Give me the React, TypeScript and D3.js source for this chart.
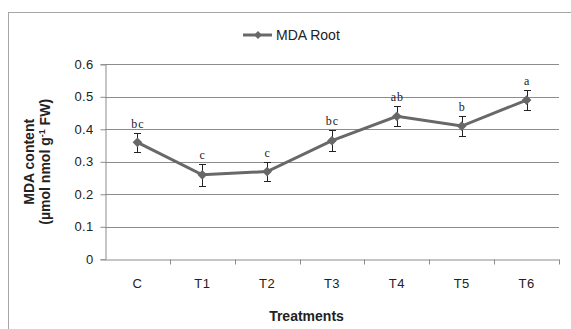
import React, { useEffect, useRef } from "react";
import * as d3 from "d3";

const categories = ["C", "T1", "T2", "T3", "T4", "T5", "T6"];
const mdaRoot = [0.36, 0.26, 0.27, 0.365, 0.44, 0.41, 0.49];
const errors = [0.03, 0.033, 0.03, 0.032, 0.031, 0.031, 0.031];
const letters = ["bc", "c", "c", "bc", "ab", "b", "a"];
const yTicks = [0, 0.1, 0.2, 0.3, 0.4, 0.5, 0.6];

const W = 571;
const H = 329;
const plot = { left: 105, right: 559, top: 64.3, bottom: 259.3 };
const sans = "Liberation Sans, Arial, sans-serif";

export default function App() {
  const ref = useRef<SVGSVGElement>(null);

  useEffect(() => {
    const svg = d3.select(ref.current);
    svg.selectAll("*").remove();

    const x = d3
      .scaleBand()
      .domain(categories)
      .range([plot.left, plot.right]);
    const y = d3.scaleLinear().domain([0, 0.6]).range([plot.bottom, plot.top]);
    const cx = (c: string) => (x(c) ?? 0) + x.bandwidth() / 2;

    // outer frame (runs off the right and bottom edges)
    svg
      .append("rect")
      .attr("x", 8.5)
      .attr("y", 12.5)
      .attr("width", 600)
      .attr("height", 400)
      .attr("fill", "white")
      .attr("stroke", "#a6a6a6");

    // grid
    svg
      .append("g")
      .selectAll("line")
      .data(yTicks.slice(1))
      .join("line")
      .attr("x1", plot.left)
      .attr("x2", plot.right)
      .attr("y1", (d) => Math.round(y(d)) + 0.5)
      .attr("y2", (d) => Math.round(y(d)) + 0.5)
      .attr("stroke", "#8c8c8c");

    // y axis
    const yAxis = svg
      .append("g")
      .attr("transform", `translate(${plot.left + 0.5},0)`)
      .call(
        d3
          .axisLeft(y)
          .tickValues(yTicks)
          .tickSize(5)
          .tickPadding(7)
          .tickFormat((d) => (d === 0 ? "0" : d3.format(".1f")(d as number)))
      );
    yAxis.select(".domain").attr("stroke", "#8c8c8c");
    yAxis.selectAll(".tick line").attr("stroke", "#8c8c8c");
    yAxis
      .selectAll(".tick text")
      .attr("font-family", sans)
      .attr("font-size", 13)
      .attr("letter-spacing", 0.3)
      .attr("fill", "#222");

    // x axis
    const xAxis = svg
      .append("g")
      .attr("transform", `translate(0,${Math.round(plot.bottom) + 0.5})`)
      .call(d3.axisBottom(x).tickSize(0).tickPadding(19));
    xAxis.select(".domain").attr("stroke", "#8c8c8c");
    xAxis
      .selectAll(".tick text")
      .attr("font-family", sans)
      .attr("font-size", 13)
      .attr("letter-spacing", 0.5)
      .attr("fill", "#222");
    // tick marks between categories
    xAxis
      .append("g")
      .selectAll("line")
      .data(categories)
      .join("line")
      .attr("x1", (d) => Math.round((x(d) ?? 0) + x.bandwidth()) + 0.5)
      .attr("x2", (d) => Math.round((x(d) ?? 0) + x.bandwidth()) + 0.5)
      .attr("y1", 0)
      .attr("y2", 5)
      .attr("stroke", "#8c8c8c");

    // series line
    const line = d3
      .line<number>()
      .x((_, i) => cx(categories[i]))
      .y((d) => y(d));
    svg
      .append("path")
      .datum(mdaRoot)
      .attr("d", line)
      .attr("fill", "none")
      .attr("stroke", "#686868")
      .attr("stroke-width", 3);

    // error bars
    const eb = svg.append("g").attr("stroke", "#222").attr("stroke-width", 1);
    mdaRoot.forEach((v, i) => {
      const px = Math.round(cx(categories[i])) + 0.5;
      const top = Math.round(y(v + errors[i])) + 0.5;
      const bot = Math.round(y(v - errors[i])) + 0.5;
      eb.append("line").attr("x1", px).attr("x2", px).attr("y1", top).attr("y2", bot);
      eb.append("line").attr("x1", px - 3.5).attr("x2", px + 3.5).attr("y1", top).attr("y2", top);
      eb.append("line").attr("x1", px - 3.5).attr("x2", px + 3.5).attr("y1", bot).attr("y2", bot);
    });

    // markers
    const diamond = d3.symbol().type(d3.symbolDiamond2).size(60);
    svg
      .append("g")
      .selectAll("path")
      .data(mdaRoot)
      .join("path")
      .attr("d", diamond)
      .attr("transform", (d, i) => `translate(${cx(categories[i])},${y(d)})`)
      .attr("fill", "#686868");

    // significance letters
    svg
      .append("g")
      .selectAll("text")
      .data(mdaRoot)
      .join("text")
      .attr("x", (_, i) => cx(categories[i]) + 0.5)
      .attr("y", (d, i) => y(d + errors[i]) - 5)
      .attr("text-anchor", "middle")
      .attr("font-family", "Liberation Serif, serif")
      .attr("font-size", 12)
      .attr("letter-spacing", 1)
      .attr("fill", "#222")
      .text((_, i) => letters[i]);

    // legend
    const lg = svg.append("g").attr("transform", "translate(243,35)");
    lg.append("line")
      .attr("x1", 0)
      .attr("x2", 29)
      .attr("y1", 0)
      .attr("y2", 0)
      .attr("stroke", "#686868")
      .attr("stroke-width", 3);
    lg.append("path")
      .attr("d", d3.symbol().type(d3.symbolDiamond2).size(40))
      .attr("transform", "translate(15,0)")
      .attr("fill", "#686868");
    lg.append("text")
      .attr("x", 33)
      .attr("y", 5)
      .attr("font-family", sans)
      .attr("font-size", 14)
      .attr("fill", "#222")
      .text("MDA Root");

    // axis titles
    svg
      .append("text")
      .attr("x", 306.5)
      .attr("y", 321)
      .attr("text-anchor", "middle")
      .attr("font-family", sans)
      .attr("font-size", 14)
      .attr("font-weight", "bold")
      .attr("fill", "#222")
      .text("Treatments");

    const yt = svg
      .append("text")
      .attr("transform", `translate(0,${(plot.top + plot.bottom) / 2}) rotate(-90)`)
      .attr("text-anchor", "middle")
      .attr("font-family", sans)
      .attr("font-size", 14)
      .attr("font-weight", "bold")
      .attr("fill", "#222");
    yt.append("tspan").attr("x", 0).attr("y", 34).text("MDA content");
    const l2 = yt.append("tspan").attr("x", 0).attr("y", 50);
    l2.append("tspan").text("(µmol nmol g");
    l2.append("tspan").attr("dy", -5).attr("font-size", 9).text("-1");
    l2.append("tspan").attr("dy", 5).text(" FW)");
  }, []);

  return (
    <svg
      ref={ref}
      width={W}
      height={H}
      style={{ position: "absolute", left: 0, top: 0, background: "white" }}
    />
  );
}
